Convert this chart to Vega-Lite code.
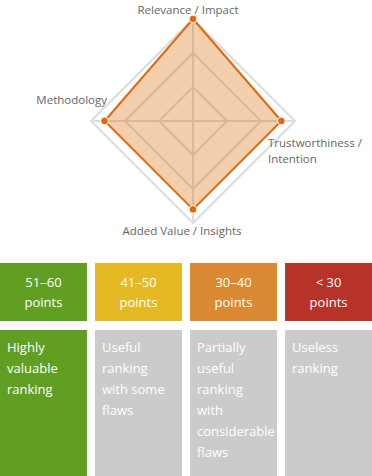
{
  "$schema": "https://vega.github.io/schema/vega-lite/v6.json",
  "background": "white",
  "padding": 0,
  "spacing": 9,
  "config": {"view": {"stroke": null}, "font": "Open Sans"},
  "resolve": {"scale": {"fill": "independent", "x": "independent", "y": "independent"}},
  "datasets": {
    "criteria": [
      {"criterion": "Relevance / Impact", "k": 0, "score": 15},
      {"criterion": "Trustworthiness / Intention", "k": 1, "score": 13},
      {"criterion": "Added Value / Insights", "k": 2, "score": 13},
      {"criterion": "Methodology", "k": 3, "score": 13}
    ],
    "grid": [
      {"level": 5, "k": 0}, {"level": 5, "k": 1}, {"level": 5, "k": 2}, {"level": 5, "k": 3},
      {"level": 10, "k": 0}, {"level": 10, "k": 1}, {"level": 10, "k": 2}, {"level": 10, "k": 3},
      {"level": 15, "k": 0}, {"level": 15, "k": 1}, {"level": 15, "k": 2}, {"level": 15, "k": 3}
    ],
    "bands": [
      {"range": "51–60", "desc": ["Highly", "valuable", "ranking"]},
      {"range": "41–50", "desc": ["Useful", "ranking", "with some", "flaws"]},
      {"range": "30–40", "desc": ["Partially", "useful", "ranking", "with", "considerable", "flaws"]},
      {"range": "< 30", "desc": ["Useless", "ranking"]}
    ]
  },
  "vconcat": [
    {
      "width": 372,
      "height": 254,
      "layer": [
        {
          "data": {"name": "grid"},
          "transform": [
            {"calculate": "datum.level * sin(datum.k * PI / 2)", "as": "px"},
            {"calculate": "datum.level * cos(datum.k * PI / 2)", "as": "py"}
          ],
          "mark": {"type": "line", "interpolate": "linear-closed", "stroke": "#dcdcdc", "strokeWidth": 2},
          "encoding": {
            "x": {"field": "px", "type": "quantitative", "scale": {"domain": [-28.382, 26.324], "nice": false, "zero": false}, "axis": null},
            "y": {"field": "py", "type": "quantitative", "scale": {"domain": [-19.56, 17.79], "nice": false, "zero": false}, "axis": null},
            "detail": {"field": "level", "type": "nominal"},
            "order": {"field": "k", "type": "quantitative"}
          }
        },
        {
          "data": {"name": "criteria"},
          "transform": [
            {"calculate": "15 * sin(datum.k * PI / 2)", "as": "gx"},
            {"calculate": "15 * cos(datum.k * PI / 2)", "as": "gy"}
          ],
          "mark": {"type": "rule", "stroke": "#dcdcdc", "strokeWidth": 2},
          "encoding": {
            "x": {"field": "gx", "type": "quantitative"},
            "y": {"field": "gy", "type": "quantitative"},
            "x2": {"datum": 0},
            "y2": {"datum": 0}
          }
        },
        {
          "data": {"name": "criteria"},
          "transform": [
            {"calculate": "datum.score * sin(datum.k * PI / 2)", "as": "px"},
            {"calculate": "datum.score * cos(datum.k * PI / 2)", "as": "py"}
          ],
          "mark": {"type": "line", "interpolate": "linear-closed", "fill": "#d96a00", "fillOpacity": 0.32, "stroke": "#e06810", "strokeWidth": 2},
          "encoding": {
            "x": {"field": "px", "type": "quantitative"},
            "y": {"field": "py", "type": "quantitative"},
            "order": {"field": "k", "type": "quantitative"}
          }
        },
        {
          "data": {"name": "criteria"},
          "transform": [
            {"calculate": "datum.score * sin(datum.k * PI / 2)", "as": "px"},
            {"calculate": "datum.score * cos(datum.k * PI / 2)", "as": "py"}
          ],
          "mark": {"type": "circle", "fill": "#e06810", "opacity": 1, "size": 60, "stroke": "white", "strokeWidth": 1},
          "encoding": {
            "x": {"field": "px", "type": "quantitative"},
            "y": {"field": "py", "type": "quantitative"}
          }
        },
        {
          "data": {"name": "criteria"},
          "transform": [
            {"filter": "datum.k == 0"},
            {"calculate": "15 * sin(datum.k * PI / 2)", "as": "gx"},
            {"calculate": "15 * cos(datum.k * PI / 2)", "as": "gy"}
          ],
          "mark": {"type": "text", "align": "center", "baseline": "bottom", "dx": -5, "dy": -3, "fontSize": 11.5, "fill": "#666666"},
          "encoding": {
            "x": {"field": "gx", "type": "quantitative"},
            "y": {"field": "gy", "type": "quantitative"},
            "text": {"field": "criterion"}
          }
        },
        {
          "data": {"name": "criteria"},
          "transform": [
            {"filter": "datum.k == 1"},
            {"calculate": "15 * sin(datum.k * PI / 2)", "as": "gx"},
            {"calculate": "15 * cos(datum.k * PI / 2)", "as": "gy"},
            {"calculate": "replace(datum.criterion, '/ ', '/\\n')", "as": "lbl"}
          ],
          "mark": {"type": "text", "align": "left", "baseline": "top", "lineBreak": "\n", "lineHeight": 16, "dx": -27, "dy": 17, "fontSize": 11.5, "fill": "#666666"},
          "encoding": {
            "x": {"field": "gx", "type": "quantitative"},
            "y": {"field": "gy", "type": "quantitative"},
            "text": {"field": "lbl"}
          }
        },
        {
          "data": {"name": "criteria"},
          "transform": [
            {"filter": "datum.k == 2"},
            {"calculate": "15 * sin(datum.k * PI / 2)", "as": "gx"},
            {"calculate": "15 * cos(datum.k * PI / 2)", "as": "gy"}
          ],
          "mark": {"type": "text", "align": "center", "baseline": "middle", "dx": -11, "dy": 9, "fontSize": 11.5, "fill": "#666666"},
          "encoding": {
            "x": {"field": "gx", "type": "quantitative"},
            "y": {"field": "gy", "type": "quantitative"},
            "text": {"field": "criterion"}
          }
        },
        {
          "data": {"name": "criteria"},
          "transform": [
            {"filter": "datum.k == 3"},
            {"calculate": "15 * sin(datum.k * PI / 2)", "as": "gx"},
            {"calculate": "15 * cos(datum.k * PI / 2)", "as": "gy"}
          ],
          "mark": {"type": "text", "align": "right", "baseline": "middle", "dx": 16, "dy": -20, "fontSize": 11.5, "fill": "#666666"},
          "encoding": {
            "x": {"field": "gx", "type": "quantitative"},
            "y": {"field": "gy", "type": "quantitative"},
            "text": {"field": "criterion"}
          }
        }
      ]
    },
    {
      "width": 372,
      "height": 58,
      "data": {"name": "bands"},
      "transform": [{"calculate": "[datum.range, 'points']", "as": "lines"}],
      "encoding": {
        "x": {"field": "range", "type": "nominal", "sort": null, "scale": {"paddingInner": 0.085, "paddingOuter": 0}, "axis": null}
      },
      "layer": [
        {
          "mark": {"type": "rect"},
          "encoding": {
            "fill": {"field": "range", "type": "nominal", "legend": null, "scale": {"domain": ["51–60", "41–50", "30–40", "< 30"], "range": ["#619f23", "#e5b923", "#da8a32", "#b73228"]}}
          }
        },
        {
          "mark": {"type": "text", "align": "center", "baseline": "middle", "fontSize": 13, "lineHeight": 20, "fill": "white", "dy": -9},
          "encoding": {"text": {"field": "lines"}}
        }
      ]
    },
    {
      "width": 372,
      "height": 146,
      "data": {"name": "bands"},
      "transform": [{"calculate": "datum.range == '51–60' ? 'top' : 'other'", "as": "tier"}],
      "encoding": {
        "x": {"field": "range", "type": "nominal", "sort": null, "scale": {"paddingInner": 0.085, "paddingOuter": 0}, "axis": null}
      },
      "layer": [
        {
          "mark": {"type": "rect"},
          "encoding": {
            "fill": {"field": "tier", "type": "nominal", "legend": null, "scale": {"domain": ["top", "other"], "range": ["#619f23", "#cbcbcb"]}}
          }
        },
        {
          "mark": {"type": "text", "align": "left", "baseline": "top", "fontSize": 13, "lineHeight": 21, "fill": "white", "dx": 7, "dy": -61},
          "encoding": {
            "x": {"field": "range", "type": "nominal", "sort": null, "bandPosition": 0},
            "text": {"field": "desc"}
          }
        }
      ]
    }
  ]
}
